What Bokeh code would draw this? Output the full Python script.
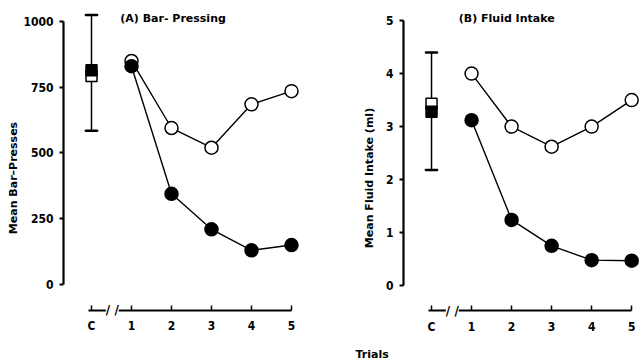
from bokeh.plotting import figure
from bokeh.layouts import row
from bokeh.models import Range1d, FixedTicker, Label, ColumnDataSource, Title
from bokeh.embed import file_html
from bokeh.resources import INLINE

# ---- data ----
trials = [1, 2, 3, 4, 5]
control_x = [0]
x_ticks = [0, 1, 2, 3, 4, 5]
x_tick_labels = ["C", "1", "2", "3", "4", "5"]

bar_open = [850, 595, 520, 685, 735]
bar_filled = [830, 345, 210, 130, 150]
bar_ctrl_open = [793]
bar_ctrl_filled = [815]
bar_ctrl_upper = [1025]
bar_ctrl_lower = [585]
bar_yticks = [0, 250, 500, 750, 1000]

fluid_open = [4.0, 3.0, 2.62, 3.0, 3.5]
fluid_filled = [3.12, 1.24, 0.75, 0.48, 0.47]
fluid_ctrl_open = [3.43]
fluid_ctrl_filled = [3.28]
fluid_ctrl_upper = [4.4]
fluid_ctrl_lower = [2.18]
fluid_yticks = [0, 1, 2, 3, 4, 5]

TICK_FONT = "DejaVu Sans Condensed"
FONT = "DejaVu Sans"
H = 360
TOP = 10


def panel(width, border_left, x_end, y_range, x_axis_at, y_bounds, yticks, ylabel,
          open_vals, filled_vals, c_open, c_filled, c_up, c_lo, title, lab_standoff):
    p = figure(width=width, height=H, output_backend="svg", toolbar_location=None,
               x_range=Range1d(-0.7, x_end), y_range=Range1d(*y_range),
               min_border_left=border_left,
               min_border_right=width - border_left - int(round((x_end + 0.7) * 40)),
               min_border_top=TOP, min_border_bottom=0)
    p.outline_line_color = None
    p.grid.visible = False
    p.background_fill_color = "white"

    # axes
    p.yaxis.bounds = y_bounds
    p.yaxis.ticker = FixedTicker(ticks=yticks)
    p.yaxis.minor_tick_line_color = None
    p.yaxis.major_tick_out = 4
    p.yaxis.major_tick_in = 0
    p.yaxis.axis_line_width = 2.2
    p.yaxis.major_tick_line_width = 2
    p.yaxis.axis_label = ylabel
    p.yaxis.axis_label_standoff = lab_standoff
    p.yaxis.major_label_standoff = 6

    p.xaxis.fixed_location = x_axis_at
    p.xaxis.bounds = (-0.08, 5)
    p.xaxis.ticker = FixedTicker(ticks=x_ticks)
    p.xaxis.major_label_overrides = {t: s for t, s in zip(x_ticks, x_tick_labels)}
    p.xaxis.minor_tick_line_color = None
    p.xaxis.major_tick_in = 5
    p.xaxis.major_tick_out = 0
    p.xaxis.axis_line_width = 1.8
    p.xaxis.major_tick_line_width = 1.5
    p.xaxis.major_label_standoff = 9

    for ax in (p.xaxis, p.yaxis):
        ax.axis_line_color = "black"
        ax.major_tick_line_color = "black"
        ax.major_label_text_font = TICK_FONT
        ax.major_label_text_font_style = "bold"
        ax.major_label_text_font_size = "12px"
        ax.major_label_text_color = "black"
        ax.axis_label_text_font = FONT
        ax.axis_label_text_font_style = "bold"
        ax.axis_label_text_font_size = "11px"
        ax.axis_label_text_color = "black"

    # axis break
    p.add_layout(Label(x=0.52, y=x_axis_at, text="/ /", text_align="center",
                       text_baseline="middle", text_font=FONT, text_font_size="12px",
                       text_font_style="bold", text_color="black",
                       background_fill_color="white",
                       border_line_color=None, level="overlay", padding=0))

    # control point with error bar
    src = ColumnDataSource(dict(x=control_x, up=c_up, lo=c_lo))
    p.segment(x0="x", y0="lo", x1="x", y1="up", source=src, line_color="black", line_width=1.5)
    p.rect(x="x", y="up", width=12, height=1, width_units="screen",
           height_units="screen", source=src, color="black", line_width=1.5)
    p.rect(x="x", y="lo", width=12, height=1, width_units="screen",
           height_units="screen", source=src, color="black", line_width=1.5)
    p.scatter(control_x, c_open, marker="square", size=11, fill_color="white",
              line_color="black", line_width=1.5)
    p.scatter(control_x, c_filled, marker="square", size=11, fill_color="black",
              line_color="black", line_width=1.5)

    # series
    p.line(trials, open_vals, line_color="black", line_width=1.4)
    p.line(trials, filled_vals, line_color="black", line_width=1.4)
    p.scatter(trials, open_vals, size=13, fill_color="white", line_color="black", line_width=1.5)
    p.scatter(trials, filled_vals, size=13, fill_color="black", line_color="black", line_width=1.5)

    p.add_layout(Label(x=title[1], y=title[2], text=title[0], text_font=FONT,
                       text_font_style="bold", text_color="black",
                       text_font_size="11px", text_baseline="middle"))
    return p


left = panel(320, 63, 5.35, (-232, 1041.8), -98.9, (0, 1000), bar_yticks, "Mean Bar–Presses",
             bar_open, bar_filled, bar_ctrl_open, bar_ctrl_filled, bar_ctrl_upper, bar_ctrl_lower,
             ("(A) Bar- Pressing", 0.72, 1011), 0)
right = panel(320, 83, 5.22, (-1.13, 5.19), -0.47, (0, 5), fluid_yticks, "Mean Fluid Intake (ml)",
              fluid_open, fluid_filled, fluid_ctrl_open, fluid_ctrl_filled, fluid_ctrl_upper,
              fluid_ctrl_lower, ("(B) Fluid Intake", 0.68, 5.04), 7)
right.add_layout(Title(text="Trials", align="left", offset=-48, text_font=FONT,
                       text_font_style="bold", text_font_size="11px", text_color="black",
                       standoff=0), "below")

layout = row(left, right)
open("out.html", "w").write(file_html(layout, INLINE))
